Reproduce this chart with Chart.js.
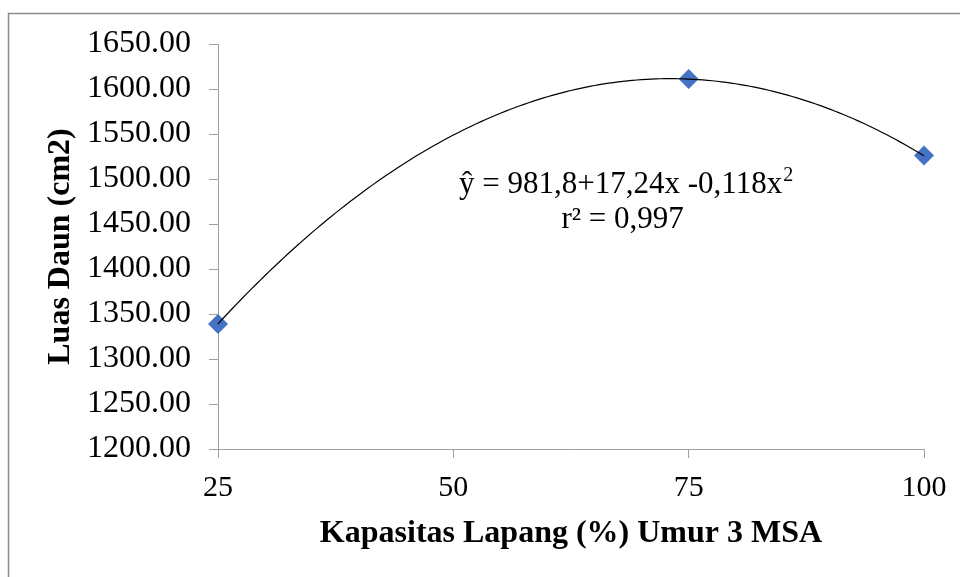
<!DOCTYPE html>
<html>
<head>
<meta charset="utf-8">
<script src="https://cdn.jsdelivr.net/npm/chart.js@4/dist/chart.umd.min.js"></script>
<style>
  html, body { margin: 0; padding: 0; background: #fff; }
  #wrap { position: relative; width: 960px; height: 577px; }
</style>
</head>
<body>
<div id="wrap"><canvas id="chart"></canvas></div>
<script>
// values
const kapasitas = [25, 75, 100]
const luasDaun = [1339, 1611, 1526]
const xTicks = [25, 50, 75, 100]
const yTicks = [1200, 1250, 1300, 1350, 1400, 1450, 1500, 1550, 1600, 1650]
// quadratic fit printed on the chart: y = a + b x + c x^2
const trendCoef = [981.8, 17.24, -0.118]
const eqLine1 = "ŷ = 981,8+17,24x -0,118x"
const eqLine1Sup = "2"
const eqLine2 = "r² = 0,997"

const serif = "'Liberation Serif', 'Times New Roman', serif"
const axisGray = "#a0a0a0"

const frame = {
  id: "frame",
  beforeDraw(chart) {
    const ctx = chart.ctx
    ctx.save()
    ctx.strokeStyle = "#8c8c8c"
    ctx.lineWidth = 1.5
    ctx.beginPath()
    ctx.moveTo(8.5, 577)
    ctx.lineTo(8.5, 13.5)
    ctx.lineTo(960, 13.5)
    ctx.stroke()
    ctx.restore()
  }
}

const trendline = {
  id: "trendline",
  afterDatasetsDraw(chart) {
    const { ctx, scales: { x, y } } = chart
    const [a, b, c] = trendCoef
    const x0 = kapasitas[0], x1 = kapasitas[kapasitas.length - 1]
    ctx.save()
    ctx.strokeStyle = "#000"
    ctx.lineWidth = 1.2
    ctx.beginPath()
    for (let i = 0; i <= 150; i++) {
      const xv = x0 + (x1 - x0) * i / 150
      const yv = a + b * xv + c * xv * xv
      const px = x.getPixelForValue(xv), py = y.getPixelForValue(yv)
      if (i === 0) ctx.moveTo(px, py); else ctx.lineTo(px, py)
    }
    ctx.stroke()

    // equation label
    const cx = x.getPixelForValue(68.3)
    const base = y.getPixelForValue(1485)
    ctx.fillStyle = "#000"
    ctx.textBaseline = "alphabetic"
    ctx.font = "31px " + serif
    const w1 = ctx.measureText(eqLine1).width
    ctx.font = "20px " + serif
    const ws = ctx.measureText(eqLine1Sup).width
    const start = cx - (w1 + ws) / 2
    ctx.textAlign = "left"
    ctx.font = "31px " + serif
    ctx.fillText(eqLine1, start, base)
    ctx.font = "20px " + serif
    ctx.fillText(eqLine1Sup, start + w1 + 1, base - 12)
    ctx.font = "31px " + serif
    ctx.textAlign = "center"
    ctx.fillText(eqLine2, cx - 3, base + 35)
    ctx.restore()
  }
}

new Chart(document.getElementById("chart"), {
  type: "scatter",
  data: {
    datasets: [{
      data: kapasitas.map((k, i) => ({ x: k, y: luasDaun[i] })),
      pointStyle: "rectRot",
      pointRadius: 10,
      pointHoverRadius: 10,
      backgroundColor: "#4472c4",
      borderColor: "#4472c4",
      borderWidth: 0,
      clip: false
    }]
  },
  options: {
    responsive: true,
    maintainAspectRatio: false,
    animation: false,
    events: [],
    layout: { padding: { left: 0, top: 44, right: 36, bottom: 0 } },
    plugins: { legend: { display: false }, tooltip: { enabled: false } },
    scales: {
      x: {
        type: "linear",
        min: xTicks[0],
        max: xTicks[xTicks.length - 1],
        afterBuildTicks(s) { s.ticks = xTicks.map(v => ({ value: v })) },
        ticks: { color: "#000", padding: 12, font: { family: serif, size: 30 } },
        grid: { drawOnChartArea: false, tickLength: 9, color: axisGray },
        border: { color: axisGray, width: 1 },
        title: {
          display: true,
          text: "Kapasitas Lapang (%) Umur 3 MSA",
          color: "#000",
          font: { family: serif, size: 32, weight: "bold" },
          padding: { top: 0, bottom: 24 }
        },
        afterFit(s) { s.height = 128 }
      },
      y: {
        min: yTicks[0],
        max: yTicks[yTicks.length - 1],
        afterBuildTicks(s) { s.ticks = yTicks.map(v => ({ value: v })) },
        ticks: { color: "#000", padding: 18, font: { family: serif, size: 32 }, callback: v => v.toFixed(2) },
        grid: { drawOnChartArea: false, tickLength: 9, color: axisGray },
        border: { color: axisGray, width: 1 },
        title: {
          display: true,
          text: "Luas Daun (cm2)",
          color: "#000",
          font: { family: serif, size: 32, weight: "bold" },
          padding: { top: 42, bottom: 0 }
        },
        afterFit(s) { s.width = 218 }
      }
    }
  },
  plugins: [frame, trendline]
})
</script>
</body>
</html>
